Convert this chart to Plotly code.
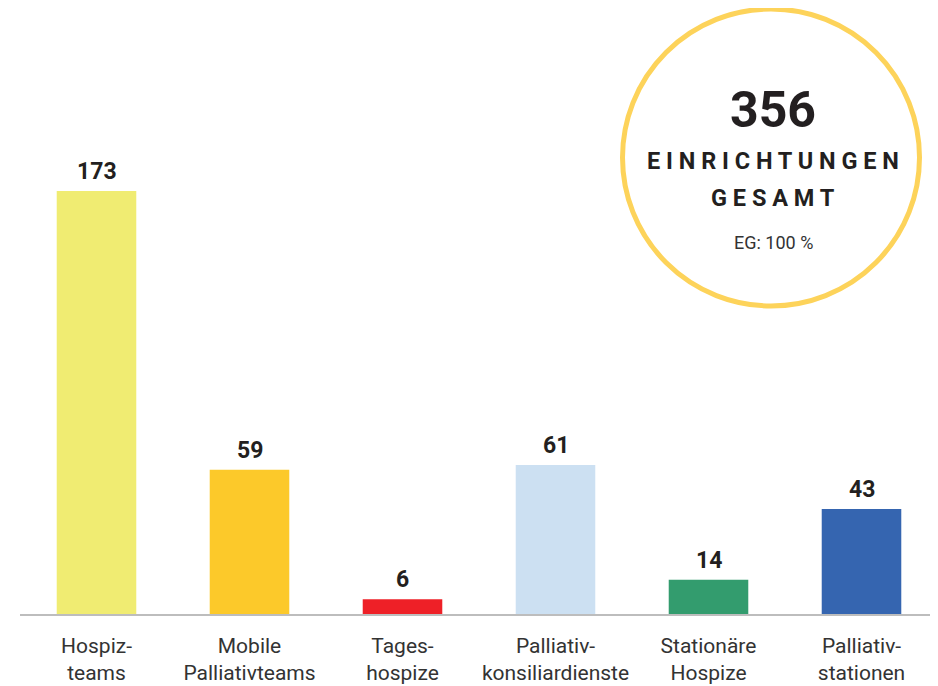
import plotly.graph_objects as go

# ---- data ----
categories = ["Hospiz-<br>teams", "Mobile<br>Palliativteams", "Tages-<br>hospize",
              "Palliativ-<br>konsiliardienste", "Stationäre<br>Hospize", "Palliativ-<br>stationen"]
values = [173, 59, 6, 61, 14, 43]
colors = ["#F0EC72", "#FCC92A", "#EE2027", "#CCE0F2", "#339C6E", "#3565B0"]
total_value = 356
total_label_1 = "EINRICHTUNGEN"
total_label_2 = "GESAMT"
total_sub = "EG: 100 %"

# ---- layout constants (pixels, page has an 8px body margin) ----
OFF = 8
W, H = 938 - OFF, 686 - OFF
ML, MR, MT, MB = 20 - OFF, 0, 0, 72
PW, PH = W - ML - MR, H - MT - MB
YMAX = PH / 2.4445

def px(x):
    # x given in screen pixels of the final window
    return (x - OFF - ML) / PW

def py(y):
    return (H - MB - (y - OFF)) / PH

def spaced(s):
    return " ".join(list(s))

fig = go.Figure()
fig.add_trace(go.Bar(
    x=list(range(len(values))),
    y=values,
    marker=dict(color=colors, line=dict(width=0)),
    width=0.52,
    hoverinfo="skip",
))

# value labels
for i, v in enumerate(values):
    fig.add_annotation(x=i, y=v, xref="x", yref="y", text=f"<b>{v}</b>",
                       showarrow=False, yanchor="bottom", yshift=4,
                       font=dict(family="Roboto", size=23, color="#231F20"))

# circle
cx, cy, r = 771, 157.5, 148.5
fig.add_shape(type="circle", xref="paper", yref="paper",
              x0=px(cx - r), x1=px(cx + r), y0=py(cy + r), y1=py(cy - r),
              line=dict(color="#FDD35A", width=5), fillcolor="white", layer="above")

fig.add_annotation(xref="paper", yref="paper", x=px(773), y=py(110), text=f"<b>{total_value}</b>",
                   showarrow=False, xanchor="center", yanchor="middle",
                   font=dict(family="Roboto", size=50, color="#231F20"))
fig.add_annotation(xref="paper", yref="paper", x=px(773), y=py(161), text=f"<b>{spaced(total_label_1)}</b>",
                   showarrow=False, xanchor="center", yanchor="middle",
                   font=dict(family="Roboto", size=23.5, color="#231F20"))
fig.add_annotation(xref="paper", yref="paper", x=px(773), y=py(198), text=f"<b>{spaced(total_label_2)}</b>",
                   showarrow=False, xanchor="center", yanchor="middle",
                   font=dict(family="Roboto", size=23.5, color="#231F20"))
fig.add_annotation(xref="paper", yref="paper", x=px(773), y=py(243), text=total_sub,
                   showarrow=False, xanchor="center", yanchor="middle",
                   font=dict(family="Roboto", size=18, color="#333333"))

fig.update_layout(
    width=W, height=H,
    margin=dict(l=ML, r=MR, t=MT, b=MB, pad=0),
    plot_bgcolor="white", paper_bgcolor="white",
    showlegend=False,
    xaxis=dict(range=[-0.5, len(values) - 0.5], tickvals=list(range(len(values))), ticktext=categories,
               showgrid=False, zeroline=False, showline=True, linecolor="#BDBDBD", linewidth=1.5,
               ticks="", ticklabelstandoff=12,
               tickfont=dict(family="Roboto", size=21, color="#333333"),
               fixedrange=True),
    yaxis=dict(range=[0, YMAX], visible=False, fixedrange=True),
)

fig.write_html("out.html", config={"displayModeBar": False})
